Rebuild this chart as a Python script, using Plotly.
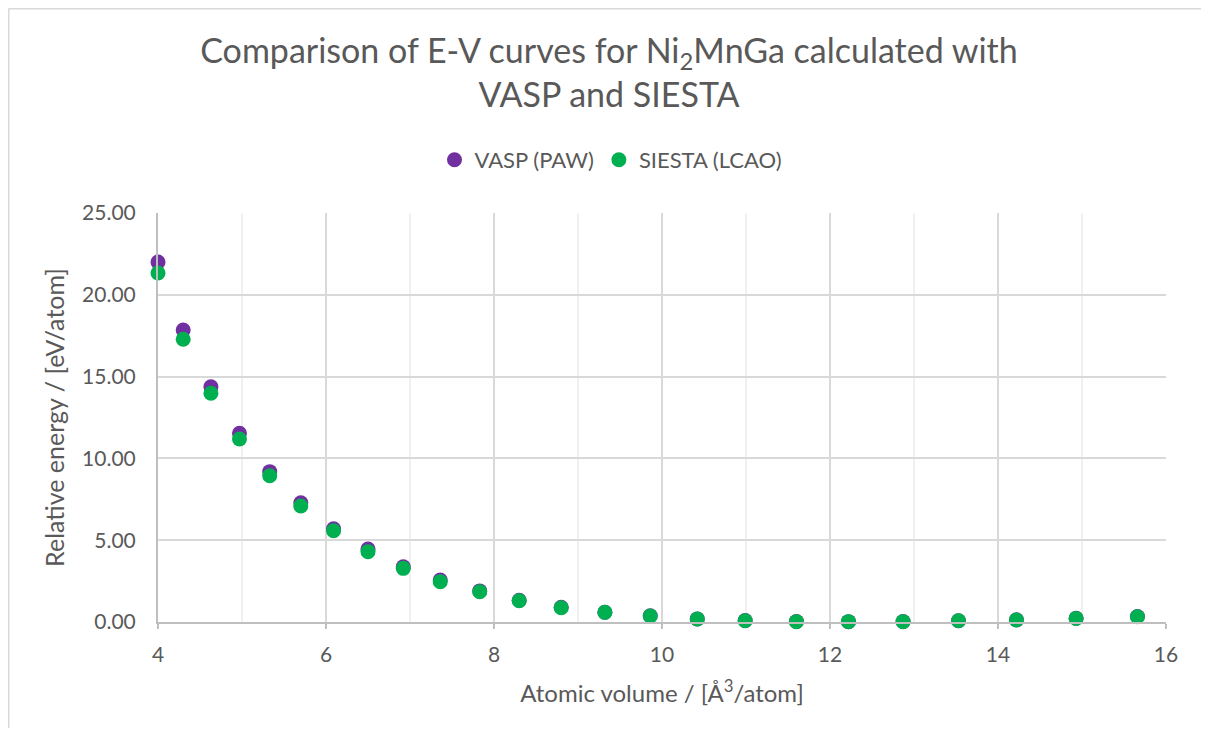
import plotly.graph_objects as go

volume = [4.00, 4.30, 4.63, 4.97, 5.33, 5.70, 6.09, 6.50, 6.92, 7.36, 7.83, 8.30,
          8.80, 9.32, 9.86, 10.42, 10.99, 11.60, 12.22, 12.87, 13.53, 14.22, 14.93, 15.66]
vasp = [22.00, 17.85, 14.38, 11.53, 9.19, 7.29, 5.70, 4.46, 3.38, 2.57, 1.90, 1.33,
        0.90, 0.60, 0.38, 0.19, 0.09, 0.03, 0.02, 0.03, 0.08, 0.13, 0.23, 0.34]
siesta = [21.33, 17.28, 13.98, 11.19, 8.94, 7.09, 5.58, 4.30, 3.28, 2.46, 1.85, 1.30,
          0.87, 0.59, 0.37, 0.18, 0.08, 0.02, 0.02, 0.02, 0.08, 0.12, 0.22, 0.32]

series_names = ["VASP (PAW)", "SIESTA (LCAO)"]
series_colors = ["#7030A0", "#00B050"]
x_ticks = [4, 6, 8, 10, 12, 14, 16]
y_ticks = [0, 5, 10, 15, 20, 25]

FONT = "Lato"
TXT = "#595959"

# page has an 8px body margin on every side; keep the figure inside the window
W, H = 1193, 720
L, T = 150, 205
pw, ph = 1008, 409
R, B = W - L - pw, H - T - ph

fig = go.Figure()
for name, ys, col in zip(series_names, [vasp, siesta], series_colors):
    fig.add_trace(go.Scatter(
        x=volume, y=ys, mode="markers", name=name, cliponaxis=False,
        marker=dict(color=col, size=15, line=dict(width=0)),
    ))

def fx(px):
    return (px - L) / pw

def fy(py):
    return (H - B - py) / ph

# chart-area border (left and top edges)
fig.add_shape(type="line", xref="paper", yref="paper",
              x0=fx(0.5), x1=fx(0.5), y0=fy(0.5), y1=fy(H + 5),
              line=dict(color="#D9D9D9", width=2))
fig.add_shape(type="line", xref="paper", yref="paper",
              x0=fx(0.5), x1=fx(W + 5), y0=fy(0.5), y1=fy(0.5),
              line=dict(color="#D9D9D9", width=2))

fig.update_layout(
    width=W, height=H,
    margin=dict(l=L, r=R, t=T, b=B, autoexpand=False),
    paper_bgcolor="white", plot_bgcolor="white",
    font=dict(family=FONT, color=TXT),
    title=dict(
        text="Comparison of E-V curves for Ni<sub>2</sub>MnGa calculated with<br>VASP and SIESTA",
        x=(609 - 8) / W, xref="container", xanchor="center",
        y=1 - 55 / H, yref="container", yanchor="middle",
        font=dict(family=FONT, size=34, color=TXT),
    ),
    legend=dict(
        orientation="h", x=(611 - 8) / W, xanchor="center", xref="container",
        y=1 - 152 / H, yanchor="middle", yref="container",
        font=dict(family=FONT, size=22, color=TXT),
        itemwidth=30,
    ),
    showlegend=True,
)

fig.update_xaxes(
    range=[4, 16], tickvals=x_ticks, ticktext=[str(v) for v in x_ticks],
    showgrid=True, gridcolor="#D9D9D9", gridwidth=2,
    minor=dict(dtick=1, tick0=4, showgrid=True, gridcolor="#F0F0F0", gridwidth=2),
    showline=True, linecolor="#BFBFBF", linewidth=2,
    ticks="outside", ticklen=5, tickcolor="#BFBFBF", tickwidth=2,
    ticklabelstandoff=8,
    tickfont=dict(family=FONT, size=21, color=TXT),
    zeroline=False,
    title=dict(text="Atomic volume / [Å<sup>3</sup>/atom]", standoff=20,
               font=dict(family=FONT, size=24, color=TXT)),
)
fig.update_yaxes(
    range=[0, 25], tickvals=y_ticks, ticktext=[f"{v:.2f}" for v in y_ticks],
    showgrid=True, gridcolor="#D9D9D9", gridwidth=2,
    showline=True, linecolor="#BFBFBF", linewidth=2,
    ticks="", ticklabelstandoff=16,
    tickfont=dict(family=FONT, size=21, color=TXT),
    zeroline=False,
    title=dict(text="Relative energy / [eV/atom]", standoff=10,
               font=dict(family=FONT, size=25, color=TXT)),
)

fig.write_html("out.html")
